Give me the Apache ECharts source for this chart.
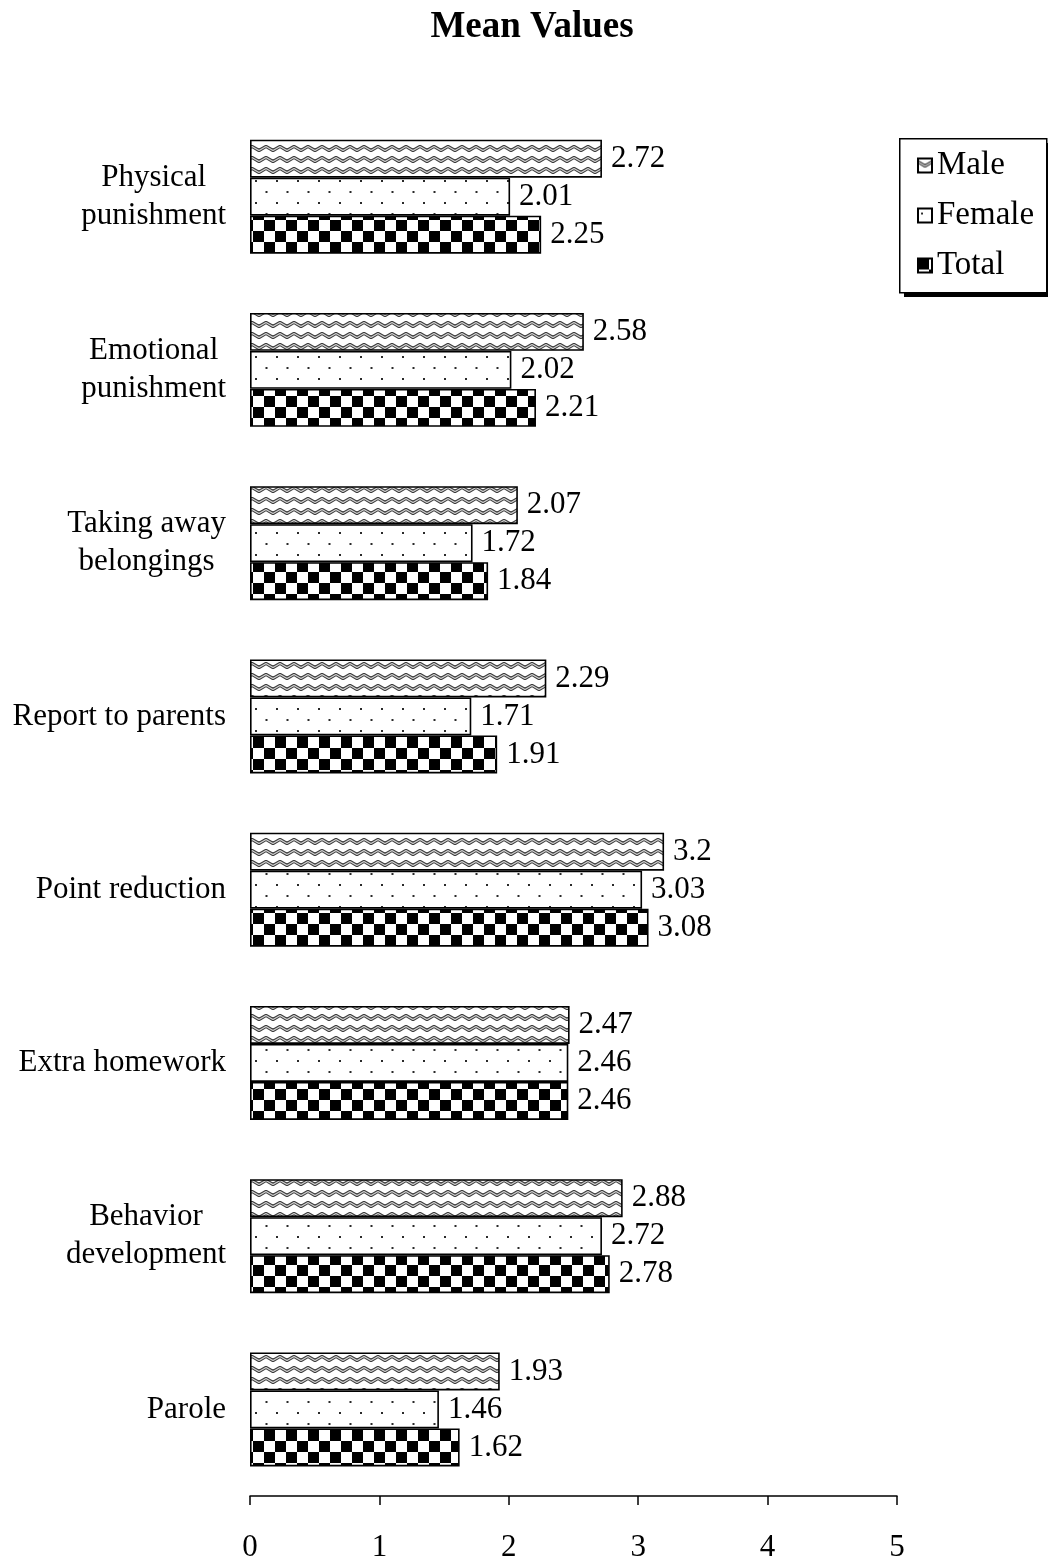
<!DOCTYPE html>
<html>
<head>
<meta charset="utf-8">
<title>Mean Values</title>
<script src="https://cdn.jsdelivr.net/npm/echarts@6/dist/echarts.min.js"></script>
<style>
  html, body { margin: 0; padding: 0; background: #fff; }
  #chart { width: 1048px; height: 1561px; }
</style>
</head>
<body>
<div id="chart"></div>
<script>
// Categories listed top to bottom
const categories = [
  'Physical\npunishment',
  'Emotional\npunishment',
  'Taking away\nbelongings',
  'Report to parents',
  'Point reduction',
  'Extra homework',
  'Behavior\ndevelopment',
  'Parole'
];
const maleValues   = [2.72, 2.58, 2.07, 2.29, 3.2, 2.47, 2.88, 1.93];
const femaleValues = [2.01, 2.02, 1.72, 1.71, 3.03, 2.46, 2.72, 1.46];
const totalValues  = [2.25, 2.21, 1.84, 1.91, 3.08, 2.46, 2.78, 1.62];
const axisTicks = [0, 1, 2, 3, 4, 5];

const FONT = '"Liberation Serif", "Times New Roman", serif';
const TEXT_SIZE = 31;

// Fill patterns drawn on small canvases
function makeTile(w, h, draw) {
  const c = document.createElement('canvas');
  c.width = w; c.height = h;
  const ctx = c.getContext('2d');
  ctx.fillStyle = '#fff';
  ctx.fillRect(0, 0, w, h);
  draw(ctx, w, h);
  return c;
}

// zigzag waves
const waveTile = makeTile(14, 11, (ctx) => {
  const path = () => {
    ctx.beginPath();
    ctx.moveTo(-7, 7.5);
    ctx.lineTo(0, 3.5);
    ctx.lineTo(7, 7.5);
    ctx.lineTo(14, 3.5);
    ctx.lineTo(21, 7.5);
  };
  ctx.lineJoin = 'round';
  ctx.strokeStyle = '#3c3c3c';
  ctx.lineWidth = 3.2;
  path(); ctx.stroke();
  ctx.strokeStyle = '#d0d0d0';
  ctx.lineWidth = 1.2;
  path(); ctx.stroke();
});

// sparse staggered dots
const dotTile = makeTile(21, 22, (ctx) => {
  ctx.fillStyle = '#2a2a2a';
  ctx.fillRect(3, 4, 2, 2);
  ctx.fillRect(13.5, 15, 2, 2);
});

// checkerboard
const checkTile = makeTile(22, 22, (ctx) => {
  ctx.fillStyle = '#000';
  ctx.fillRect(0, 0, 11, 11);
  ctx.fillRect(11, 11, 11, 11);
});

function barSeries(name, values, tile) {
  return {
    name: name,
    type: 'bar',
    data: values,
    barWidth: 38,
    barGap: '0%',
    itemStyle: {
      color: { image: tile, repeat: 'repeat' },
      borderColor: '#000',
      borderWidth: 1.6
    },
    label: {
      show: true,
      position: 'right',
      distance: 9,
      fontFamily: FONT,
      fontSize: TEXT_SIZE,
      color: '#000',
      formatter: p => String(p.value)
    },
    emphasis: { disabled: true }
  };
}

const chart = echarts.init(document.getElementById('chart'), null, { renderer: 'canvas' });
chart.setOption({
  animation: false,
  backgroundColor: '#fff',
  title: {
    text: 'Mean Values',
    left: 527,
    textAlign: 'center',
    top: 4,
    textStyle: { fontFamily: FONT, fontSize: 37, fontWeight: 'bold', color: '#000' }
  },
  // legend frame with a hard drop shadow
  graphic: [
    { type: 'rect', z: 1, left: 904, top: 143,
      shape: { width: 147, height: 154 }, style: { fill: '#000' } },
    { type: 'rect', z: 2, left: 899, top: 138,
      shape: { width: 147, height: 154 },
      style: { fill: '#fff', stroke: '#000', lineWidth: 1.5 } }
  ],
  legend: {
    orient: 'vertical',
    left: 899,
    top: 138,
    z: 10,
    padding: [11, 4, 9, 18],
    icon: 'rect',
    itemWidth: 14,
    itemHeight: 14,
    itemGap: 17,
    itemTextGap: 3,
    textStyle: { fontFamily: FONT, fontSize: 33, color: '#000' },
    data: ['Male', 'Female', 'Total']
  },
  grid: { left: 250, right: 151, top: 110, bottom: 65, outerBoundsMode: 'none', containLabel: false },
  xAxis: {
    type: 'value',
    min: axisTicks[0],
    max: axisTicks[axisTicks.length - 1],
    interval: 1,
    splitLine: { show: false },
    axisLine: { show: true, lineStyle: { color: '#000', width: 1.5 } },
    axisTick: { show: true, length: 9, lineStyle: { color: '#000', width: 1.5 } },
    axisLabel: { margin: 36, fontFamily: FONT, fontSize: TEXT_SIZE, color: '#000' }
  },
  yAxis: {
    type: 'category',
    inverse: true,
    data: categories,
    axisLine: { show: false },
    axisTick: { show: false },
    axisLabel: {
      margin: 24,
      align: 'right',
      // lines of a wrapped label are centred on each other
      formatter: v => v.split('\n').map(line => '{c|' + line + '}').join('\n'),
      rich: {
        c: {
          align: 'center',
          fontFamily: FONT,
          fontSize: TEXT_SIZE,
          lineHeight: 38,
          color: '#000'
        }
      }
    }
  },
  series: [
    barSeries('Male', maleValues, waveTile),
    barSeries('Female', femaleValues, dotTile),
    barSeries('Total', totalValues, checkTile)
  ]
});
</script>
</body>
</html>
